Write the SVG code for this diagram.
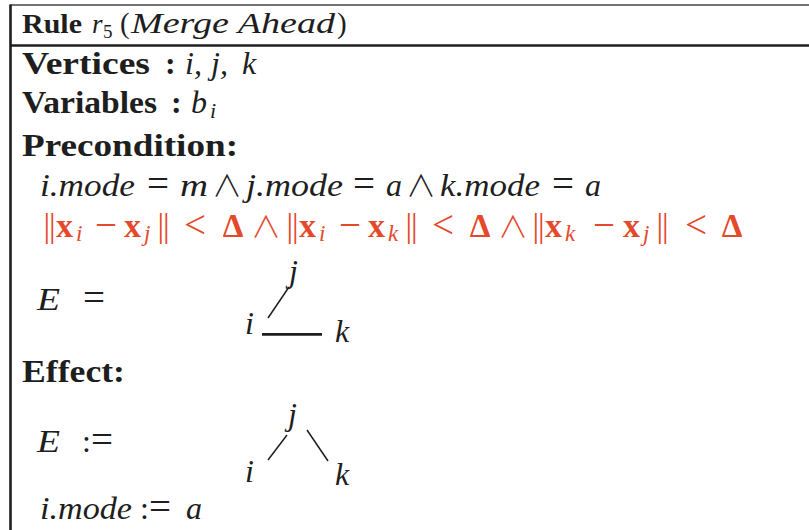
<svg xmlns="http://www.w3.org/2000/svg" width="809" height="530" viewBox="0 0 809 530">
<style>
text{font-family:"Liberation Serif","DejaVu Serif",serif;fill:#1e1e1e}
.b{font-weight:bold;font-size:32px}
.m{font-style:italic;font-size:32px}
.u{font-size:32px}
.op{font-size:39px;text-anchor:middle}
.and{font-family:"Noto Sans CJK SC","DejaVu Sans",sans-serif;font-size:30px;font-weight:300;text-anchor:middle}
.sub{font-style:italic;font-size:22px}
.red text{fill:#e4492b}
.rx{font-weight:bold;font-size:34px}
.rsub{font-style:italic;font-size:23px}
.rop{font-size:39px;text-anchor:middle}
.bar{font-size:33px;text-anchor:middle;letter-spacing:-1px}
.rd{font-weight:bold;font-size:33px;text-anchor:middle}
.edge{stroke:#1e1e1e;stroke-width:1.5;fill:none}
.frame{stroke:#1e1e1e;fill:none}
</style>
<rect width="809" height="530" fill="#fff"/>
<g id="frame">
<line class="frame" x1="10" y1="5" x2="809" y2="5" stroke-width="1.5" style="stroke:#444"/>
<line class="frame" x1="10" y1="45.5" x2="809" y2="45.5" stroke-width="2.6"/>
<line class="frame" x1="10.5" y1="4.5" x2="10.5" y2="530" stroke-width="2.6"/>
</g>
<g id="title">
<text class="b" x="22" y="33" style="font-size:27px" textLength="60" lengthAdjust="spacingAndGlyphs">Rule</text>
<text class="m" x="92" y="33" style="font-size:27px">r</text>
<text x="103" y="38" style="font-size:19px">5</text>
<text x="120" y="33" style="font-size:29px">(</text>
<text class="m" x="131" y="33" style="font-size:29px" textLength="204" lengthAdjust="spacingAndGlyphs">Merge Ahead</text>
<text x="337" y="33" style="font-size:29px">)</text>
</g>
<g id="vertices">
<text class="b" x="22" y="74" textLength="128" lengthAdjust="spacingAndGlyphs">Vertices</text>
<text class="b" x="165" y="74">:</text>
<text class="m" x="185" y="74">i,</text>
<text class="m" x="211" y="74">j,</text>
<text class="m" x="242" y="74">k</text>
</g>
<g id="variables">
<text class="b" x="22" y="113" textLength="135" lengthAdjust="spacingAndGlyphs">Variables</text>
<text class="b" x="171" y="113">:</text>
<text class="m" x="191" y="113">b</text>
<text class="sub" x="210" y="118">i</text>
</g>
<g id="precondition">
<text class="b" x="22" y="156" textLength="216" lengthAdjust="spacingAndGlyphs">Precondition:</text>
<text class="m" x="40" y="196" textLength="95" lengthAdjust="spacingAndGlyphs">i.mode</text>
<text class="op" x="158" y="197">=</text>
<text class="m" x="180" y="196" textLength="28" lengthAdjust="spacingAndGlyphs">m</text>
<text class="and" x="227" y="196">∧</text>
<text class="m" x="246" y="196" textLength="97" lengthAdjust="spacingAndGlyphs">j.mode</text>
<text class="op" x="364" y="197">=</text>
<text class="m" x="386" y="196">a</text>
<text class="and" x="421" y="196">∧</text>
<text class="m" x="440" y="196" textLength="100" lengthAdjust="spacingAndGlyphs">k.mode</text>
<text class="op" x="563" y="197">=</text>
<text class="m" x="585" y="196">a</text>
</g>
<g id="distance-condition" class="red">
<text class="bar" x="49" y="237">||</text>
<text class="rx" x="56" y="237">x</text>
<text class="rsub" x="76" y="241">i</text>
<text class="rop" x="106" y="238">−</text>
<text class="rx" x="124" y="237">x</text>
<text class="rsub" x="144" y="241">j</text>
<text class="bar" x="163" y="237">||</text>
<text class="rop" x="195" y="238">&lt;</text>
<text class="rd" x="233" y="237">Δ</text>
<text class="and" x="266" y="237">∧</text>
<text class="bar" x="292" y="237">||</text>
<text class="rx" x="299" y="237">x</text>
<text class="rsub" x="319" y="241">i</text>
<text class="rop" x="350" y="238">−</text>
<text class="rx" x="368" y="237">x</text>
<text class="rsub" x="388" y="241">k</text>
<text class="bar" x="411" y="237">||</text>
<text class="rop" x="443" y="238">&lt;</text>
<text class="rd" x="480" y="237">Δ</text>
<text class="and" x="513" y="237">∧</text>
<text class="bar" x="538" y="237">||</text>
<text class="rx" x="545" y="237">x</text>
<text class="rsub" x="565" y="241">k</text>
<text class="rop" x="604" y="238">−</text>
<text class="rx" x="623" y="237">x</text>
<text class="rsub" x="643" y="241">j</text>
<text class="bar" x="662" y="237">||</text>
<text class="rop" x="696" y="238">&lt;</text>
<text class="rd" x="732" y="237">Δ</text>
</g>
<g id="E-before">
<text class="m" x="37" y="310" textLength="23" lengthAdjust="spacingAndGlyphs">E</text>
<text class="op" x="94" y="311">=</text>
</g>
<g id="graph1-node-j"><text class="m" x="289" y="282">j</text></g>
<g id="graph1-node-i"><text class="m" x="245" y="334">i</text></g>
<g id="graph1-node-k"><text class="m" x="335" y="342">k</text></g>
<g id="effect-label">
<text class="b" x="22" y="382" textLength="103" lengthAdjust="spacingAndGlyphs">Effect:</text>
</g>
<g id="E-after">
<text class="m" x="37" y="452" textLength="23" lengthAdjust="spacingAndGlyphs">E</text>
<text class="u" x="82" y="452">:</text>
<text class="op" x="102" y="453">=</text>
</g>
<g id="graph2-node-j"><text class="m" x="288" y="425">j</text></g>
<g id="graph2-node-i"><text class="m" x="245" y="482">i</text></g>
<g id="graph2-node-k"><text class="m" x="335" y="485">k</text></g>
<g id="mode-update">
<text class="m" x="40" y="519" textLength="92" lengthAdjust="spacingAndGlyphs">i.mode</text>
<text class="u" x="140" y="519">:</text>
<text class="op" x="160" y="520">=</text>
<text class="m" x="186" y="519">a</text>
</g>
<g id="connectors">
<line class="edge" x1="268" y1="318" x2="289" y2="287"/>
<line class="edge" x1="262" y1="334.3" x2="322" y2="334.3" style="stroke-width:2.7"/>
<line class="edge" x1="268" y1="460" x2="287" y2="435"/>
<line class="edge" x1="307" y1="430" x2="328" y2="461"/>
</g>
</svg>
